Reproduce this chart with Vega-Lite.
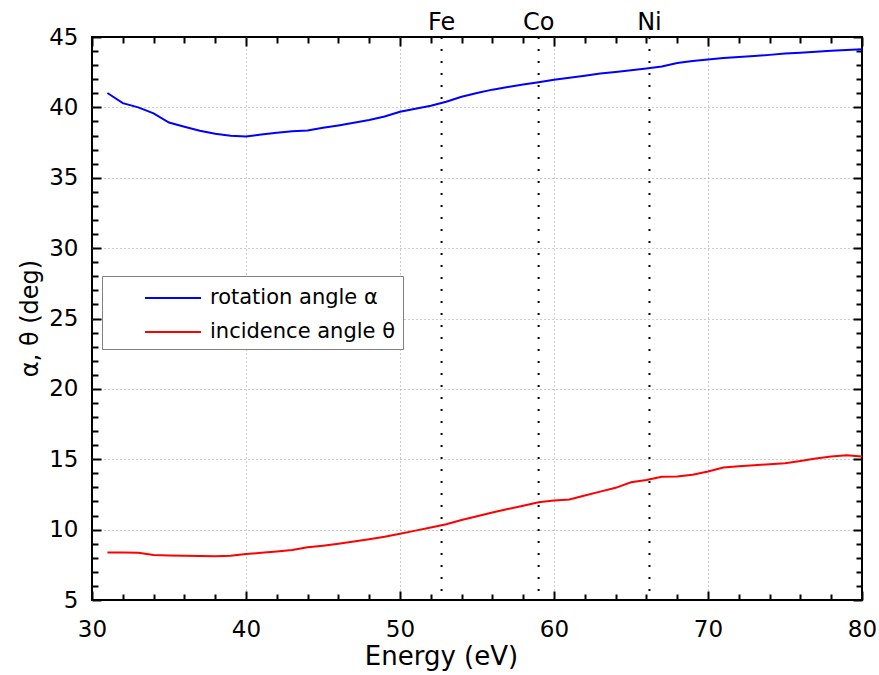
{
  "$schema": "https://vega.github.io/schema/vega-lite/v6.json",
  "width": 770,
  "height": 563,
  "autosize": {"type": "none"},
  "padding": {"left": 92, "top": 37, "right": 17, "bottom": 75},
  "background": "white",
  "config": {
    "view": {"stroke": "black", "strokeWidth": 2},
    "font": "DejaVu Sans",
    "axis": {
      "domain": false,
      "tickColor": "black",
      "tickWidth": 2,
      "labelColor": "black",
      "titleColor": "black",
      "labelFont": "DejaVu Sans",
      "titleFont": "DejaVu Sans",
      "titleFontWeight": "normal",
      "gridColor": "#999999",
      "gridDash": [1, 3],
      "gridWidth": 1
    }
  },
  "datasets": {
    "curves": [
      {"E": 31, "angle": 41.02, "series": "rotation angle α"},
      {"E": 32, "angle": 40.3, "series": "rotation angle α"},
      {"E": 33, "angle": 40.0, "series": "rotation angle α"},
      {"E": 34, "angle": 39.58, "series": "rotation angle α"},
      {"E": 35, "angle": 38.92, "series": "rotation angle α"},
      {"E": 36, "angle": 38.62, "series": "rotation angle α"},
      {"E": 37, "angle": 38.34, "series": "rotation angle α"},
      {"E": 38, "angle": 38.12, "series": "rotation angle α"},
      {"E": 39, "angle": 37.98, "series": "rotation angle α"},
      {"E": 40, "angle": 37.93, "series": "rotation angle α"},
      {"E": 41, "angle": 38.08, "series": "rotation angle α"},
      {"E": 42, "angle": 38.2, "series": "rotation angle α"},
      {"E": 43, "angle": 38.3, "series": "rotation angle α"},
      {"E": 44, "angle": 38.36, "series": "rotation angle α"},
      {"E": 45, "angle": 38.55, "series": "rotation angle α"},
      {"E": 46, "angle": 38.72, "series": "rotation angle α"},
      {"E": 47, "angle": 38.9, "series": "rotation angle α"},
      {"E": 48, "angle": 39.1, "series": "rotation angle α"},
      {"E": 49, "angle": 39.35, "series": "rotation angle α"},
      {"E": 50, "angle": 39.69, "series": "rotation angle α"},
      {"E": 51, "angle": 39.9, "series": "rotation angle α"},
      {"E": 52, "angle": 40.12, "series": "rotation angle α"},
      {"E": 53, "angle": 40.4, "series": "rotation angle α"},
      {"E": 54, "angle": 40.75, "series": "rotation angle α"},
      {"E": 55, "angle": 41.02, "series": "rotation angle α"},
      {"E": 56, "angle": 41.26, "series": "rotation angle α"},
      {"E": 57, "angle": 41.45, "series": "rotation angle α"},
      {"E": 58, "angle": 41.62, "series": "rotation angle α"},
      {"E": 59, "angle": 41.78, "series": "rotation angle α"},
      {"E": 60, "angle": 41.96, "series": "rotation angle α"},
      {"E": 61, "angle": 42.1, "series": "rotation angle α"},
      {"E": 62, "angle": 42.25, "series": "rotation angle α"},
      {"E": 63, "angle": 42.4, "series": "rotation angle α"},
      {"E": 64, "angle": 42.52, "series": "rotation angle α"},
      {"E": 65, "angle": 42.64, "series": "rotation angle α"},
      {"E": 66, "angle": 42.76, "series": "rotation angle α"},
      {"E": 67, "angle": 42.9, "series": "rotation angle α"},
      {"E": 68, "angle": 43.15, "series": "rotation angle α"},
      {"E": 69, "angle": 43.3, "series": "rotation angle α"},
      {"E": 70, "angle": 43.4, "series": "rotation angle α"},
      {"E": 71, "angle": 43.5, "series": "rotation angle α"},
      {"E": 72, "angle": 43.58, "series": "rotation angle α"},
      {"E": 73, "angle": 43.65, "series": "rotation angle α"},
      {"E": 74, "angle": 43.73, "series": "rotation angle α"},
      {"E": 75, "angle": 43.82, "series": "rotation angle α"},
      {"E": 76, "angle": 43.88, "series": "rotation angle α"},
      {"E": 77, "angle": 43.95, "series": "rotation angle α"},
      {"E": 78, "angle": 44.02, "series": "rotation angle α"},
      {"E": 79, "angle": 44.08, "series": "rotation angle α"},
      {"E": 80, "angle": 44.13, "series": "rotation angle α"},
      {"E": 31, "angle": 8.38, "series": "incidence angle θ"},
      {"E": 32, "angle": 8.38, "series": "incidence angle θ"},
      {"E": 33, "angle": 8.36, "series": "incidence angle θ"},
      {"E": 34, "angle": 8.2, "series": "incidence angle θ"},
      {"E": 35, "angle": 8.17, "series": "incidence angle θ"},
      {"E": 36, "angle": 8.14, "series": "incidence angle θ"},
      {"E": 37, "angle": 8.12, "series": "incidence angle θ"},
      {"E": 38, "angle": 8.1, "series": "incidence angle θ"},
      {"E": 39, "angle": 8.15, "series": "incidence angle θ"},
      {"E": 40, "angle": 8.26, "series": "incidence angle θ"},
      {"E": 41, "angle": 8.36, "series": "incidence angle θ"},
      {"E": 42, "angle": 8.45, "series": "incidence angle θ"},
      {"E": 43, "angle": 8.55, "series": "incidence angle θ"},
      {"E": 44, "angle": 8.74, "series": "incidence angle θ"},
      {"E": 45, "angle": 8.86, "series": "incidence angle θ"},
      {"E": 46, "angle": 9.0, "series": "incidence angle θ"},
      {"E": 47, "angle": 9.15, "series": "incidence angle θ"},
      {"E": 48, "angle": 9.32, "series": "incidence angle θ"},
      {"E": 49, "angle": 9.5, "series": "incidence angle θ"},
      {"E": 50, "angle": 9.71, "series": "incidence angle θ"},
      {"E": 51, "angle": 9.93, "series": "incidence angle θ"},
      {"E": 52, "angle": 10.15, "series": "incidence angle θ"},
      {"E": 53, "angle": 10.38, "series": "incidence angle θ"},
      {"E": 54, "angle": 10.68, "series": "incidence angle θ"},
      {"E": 55, "angle": 10.95, "series": "incidence angle θ"},
      {"E": 56, "angle": 11.22, "series": "incidence angle θ"},
      {"E": 57, "angle": 11.46, "series": "incidence angle θ"},
      {"E": 58, "angle": 11.7, "series": "incidence angle θ"},
      {"E": 59, "angle": 11.95, "series": "incidence angle θ"},
      {"E": 60, "angle": 12.07, "series": "incidence angle θ"},
      {"E": 61, "angle": 12.14, "series": "incidence angle θ"},
      {"E": 62, "angle": 12.42, "series": "incidence angle θ"},
      {"E": 63, "angle": 12.7, "series": "incidence angle θ"},
      {"E": 64, "angle": 12.97, "series": "incidence angle θ"},
      {"E": 65, "angle": 13.36, "series": "incidence angle θ"},
      {"E": 66, "angle": 13.52, "series": "incidence angle θ"},
      {"E": 67, "angle": 13.76, "series": "incidence angle θ"},
      {"E": 68, "angle": 13.78, "series": "incidence angle θ"},
      {"E": 69, "angle": 13.9, "series": "incidence angle θ"},
      {"E": 70, "angle": 14.13, "series": "incidence angle θ"},
      {"E": 71, "angle": 14.41, "series": "incidence angle θ"},
      {"E": 72, "angle": 14.5, "series": "incidence angle θ"},
      {"E": 73, "angle": 14.58, "series": "incidence angle θ"},
      {"E": 74, "angle": 14.65, "series": "incidence angle θ"},
      {"E": 75, "angle": 14.72, "series": "incidence angle θ"},
      {"E": 76, "angle": 14.88, "series": "incidence angle θ"},
      {"E": 77, "angle": 15.05, "series": "incidence angle θ"},
      {"E": 78, "angle": 15.2, "series": "incidence angle θ"},
      {"E": 79, "angle": 15.28, "series": "incidence angle θ"},
      {"E": 80, "angle": 15.19, "series": "incidence angle θ"}
    ],
    "edges": [
      {"element": "Fe", "energy": 52.7},
      {"element": "Co", "energy": 59.0},
      {"element": "Ni", "energy": 66.2}
    ]
  },
  "resolve": {"axis": {"x": "independent", "y": "independent"}},
  "layer": [
    {
      "data": {"name": "curves"},
      "mark": {"type": "line", "strokeWidth": 2},
      "encoding": {
        "x": {
          "field": "E", "type": "quantitative",
          "scale": {"domain": [30, 80], "nice": false, "zero": false},
          "axis": {
            "orient": "bottom",
            "title": "Energy (eV)",
            "titleFontSize": 26,
            "titleX": 349,
            "titleY": 64,
            "titleBaseline": "alphabetic",
            "values": [30, 40, 50, 60, 70, 80],
            "labelFontSize": 23,
            "labelPadding": 18,
            "labelFlush": false,
            "ticks": false,
            "grid": true,
            "gridOpacity": {"condition": {"test": "datum.value > 30 && datum.value < 80", "value": 1}, "value": 0}
          }
        },
        "y": {
          "field": "angle", "type": "quantitative",
          "scale": {"domain": [5, 45], "nice": false, "zero": false},
          "axis": {
            "orient": "left",
            "title": "α, θ (deg)",
            "titleFontSize": 24,
            "titleX": -62,
            "titleY": 281,
            "titleBaseline": "middle",
            "titleAlign": "center",
            "values": [5, 10, 15, 20, 25, 30, 35, 40, 45],
            "labelFontSize": 23,
            "labelPadding": 14,
            "labelFlush": false,
            "ticks": false,
            "grid": true,
            "gridOpacity": {"condition": {"test": "datum.value > 5 && datum.value < 45", "value": 1}, "value": 0}
          }
        },
        "color": {
          "field": "series", "type": "nominal",
          "scale": {"domain": ["rotation angle α", "incidence angle θ"], "range": ["#0000ff", "#ff0000"]},
          "legend": {
            "orient": "none",
            "legendX": 10,
            "legendY": 239,
            "title": null,
            "symbolType": "M-2,0H2",
            "symbolSize": 784,
            "symbolStrokeWidth": 2,
            "symbolOffset": 49,
            "labelFontSize": 21,
            "labelFont": "DejaVu Sans",
            "labelColor": "black",
            "labelOffset": 22,
            "labelLimit": 400,
            "strokeColor": "#808080",
            "fillColor": "white",
            "padding": 7,
            "rowPadding": 9
          }
        }
      }
    },
    {
      "data": {"name": "edges"},
      "mark": {"type": "rule", "color": "black", "strokeWidth": 2, "strokeDash": [2, 10]},
      "encoding": {
        "x": {
          "field": "energy", "type": "quantitative",
          "scale": {"domain": [30, 80], "nice": false, "zero": false},
          "axis": {
            "orient": "top", "title": null, "labels": false, "grid": false,
            "values": [30, 40, 50, 60, 70, 80],
            "offset": -9, "tickSize": 9
          }
        }
      }
    },
    {
      "data": {"name": "edges"},
      "mark": {"type": "text", "fontSize": 24, "font": "DejaVu Sans", "baseline": "alphabetic", "align": "center", "dy": -7, "color": "black"},
      "encoding": {
        "x": {"field": "energy", "type": "quantitative", "axis": null},
        "y": {
          "datum": 45, "type": "quantitative",
          "axis": {
            "orient": "right", "title": null, "labels": false, "grid": false,
            "values": [5, 10, 15, 20, 25, 30, 35, 40, 45],
            "offset": -9, "tickSize": 9
          }
        },
        "text": {"field": "element", "type": "nominal"}
      }
    },
    {
      "data": {"name": "curves"},
      "mark": {"type": "point", "opacity": 0},
      "encoding": {
        "x": {
          "field": "E", "type": "quantitative",
          "axis": {
            "orient": "bottom", "title": null, "labels": false, "grid": false,
            "values": [30, 40, 50, 60, 70, 80],
            "offset": -9, "tickSize": 9
          }
        },
        "y": {
          "field": "angle", "type": "quantitative",
          "axis": {
            "orient": "left", "title": null, "labels": false, "grid": false,
            "values": [5, 10, 15, 20, 25, 30, 35, 40, 45],
            "offset": -9, "tickSize": 9
          }
        }
      }
    },
    {
      "data": {"name": "curves"},
      "mark": {"type": "point", "opacity": 0},
      "encoding": {
        "x": {
          "field": "E", "type": "quantitative",
          "axis": {
            "orient": "bottom", "title": null, "labels": false, "grid": false,
            "values": [32, 34, 36, 38, 42, 44, 46, 48, 52, 54, 56, 58, 62, 64, 66, 68, 72, 74, 76, 78],
            "offset": -6, "tickSize": 6
          }
        },
        "y": {
          "field": "angle", "type": "quantitative",
          "axis": {
            "orient": "left", "title": null, "labels": false, "grid": false,
            "values": [6, 7, 8, 9, 11, 12, 13, 14, 16, 17, 18, 19, 21, 22, 23, 24, 26, 27, 28, 29, 31, 32, 33, 34, 36, 37, 38, 39, 41, 42, 43, 44],
            "offset": -6, "tickSize": 6
          }
        }
      }
    },
    {
      "data": {"name": "curves"},
      "mark": {"type": "point", "opacity": 0},
      "encoding": {
        "x": {
          "field": "E", "type": "quantitative",
          "axis": {
            "orient": "top", "title": null, "labels": false, "grid": false,
            "values": [32, 34, 36, 38, 42, 44, 46, 48, 52, 54, 56, 58, 62, 64, 66, 68, 72, 74, 76, 78],
            "offset": -6, "tickSize": 6
          }
        },
        "y": {
          "field": "angle", "type": "quantitative",
          "axis": {
            "orient": "right", "title": null, "labels": false, "grid": false,
            "values": [6, 7, 8, 9, 11, 12, 13, 14, 16, 17, 18, 19, 21, 22, 23, 24, 26, 27, 28, 29, 31, 32, 33, 34, 36, 37, 38, 39, 41, 42, 43, 44],
            "offset": -6, "tickSize": 6
          }
        }
      }
    }
  ]
}
